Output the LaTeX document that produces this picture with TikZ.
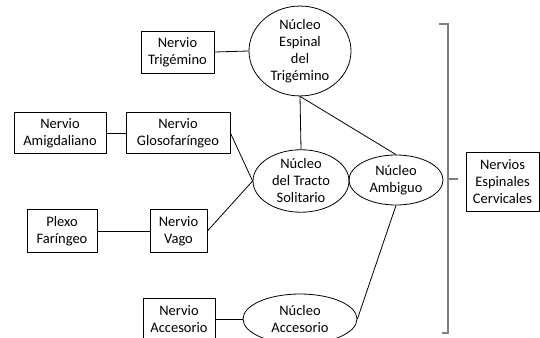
\documentclass[tikz,border=0pt]{standalone}
\usepackage{fontspec}
\setmainfont{Carlito}
\usetikzlibrary{shapes.geometric}
\begin{document}
\begin{tikzpicture}[x=1pt,y=-1pt,
    caja/.style={draw,line width=.8pt,align=center,inner sep=0pt,font=\fontsize{14.5}{17}\selectfont},
    nucleo/.style={draw,ellipse,line width=.8pt,align=center,inner sep=0pt,font=\fontsize{14.5}{17}\selectfont},
    enlace/.style={line width=.8pt}]
\useasboundingbox (0,0) rectangle (540,337);
% nervios (cajas)
\node[caja,minimum width=73pt,minimum height=42pt] (trig) at (177.5,52) {Nervio\\Trigémino};
\node[caja,minimum width=92pt,minimum height=41pt] (amig) at (60,133) {Nervio\\Amigdaliano};
\node[caja,minimum width=104pt,minimum height=41pt] (glos) at (178,133) {Nervio\\Glosofaríngeo};
\node[caja,minimum width=70pt,minimum height=43pt] (plexo) at (62,231) {Plexo\\Faríngeo};
\node[caja,minimum width=57pt,minimum height=43pt] (vago) at (178.5,231) {Nervio\\Vago};
\node[caja,minimum width=72pt,minimum height=42pt] (acc) at (179,319) {Nervio\\Accesorio};
\node[caja,minimum width=73pt,minimum height=59pt] (cerv) at (502.5,181.5) {Nervios\\Espinales\\Cervicales};
% nucleos
\node[nucleo,minimum width=102pt,minimum height=82pt] (espinal) at (300,51) {Núcleo\\Espinal\\del\\Trigémino};
\node[nucleo,minimum width=96pt,minimum height=56pt] (tracto) at (301,181) {Núcleo\\del Tracto\\Solitario};
\node[nucleo,minimum width=94pt,minimum height=50pt] (ambiguo) at (396,180) {Núcleo\\Ambiguo};
\node[nucleo,minimum width=114pt,minimum height=50pt] (nacc) at (300,319) {Núcleo\\Accesorio};
% conexiones
\draw[enlace] (trig.east)--(espinal.west);
\draw[enlace] (amig.east)--(glos.west);
\draw[enlace] (plexo.east)--(vago.west);
\draw[enlace] (glos.east)--(tracto.west);
\draw[enlace] (vago.east)--(tracto.west);
\draw[enlace] (espinal.south)--(tracto.north);
\draw[enlace] (espinal.south)--(ambiguo.north);
\draw[enlace] (ambiguo.south)--(nacc.east);
\draw[enlace] (acc.east)--(nacc.west);
% llave
\draw[gray,line width=1.2pt] (439,24)--(448,24)--(448,333)--(442,333);
\draw[gray,line width=1.2pt] (448,179)--(458,179);
\end{tikzpicture}
\end{document}
